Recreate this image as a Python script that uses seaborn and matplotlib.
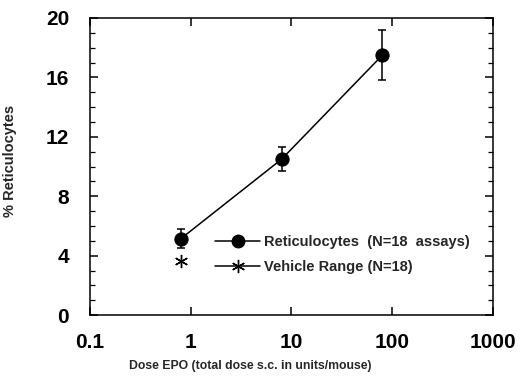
import numpy as np
import pandas as pd
import matplotlib
matplotlib.use("Agg")
import matplotlib.pyplot as plt
from matplotlib.lines import Line2D
from matplotlib.ticker import FixedLocator, MultipleLocator, NullLocator, FixedFormatter
import seaborn as sns

# data
dose = [0.8, 8, 80]
retic = [5.15, 10.5, 17.5]
retic_err = [0.65, 0.8, 1.7]
vehicle_dose = [0.8]
vehicle_val = [3.65]
xticks = [0.1, 1, 10, 100, 1000]
xtick_labels = ["0.1", "1", "10", "100", "1000"]

df = pd.DataFrame({"dose": dose, "retic": retic})

sns.set_style("ticks")
plt.rcParams["font.family"] = ["Liberation Sans", "DejaVu Sans"]

fig = plt.figure(figsize=(5.2, 3.82), dpi=100)
ax = fig.add_axes([0.173, 0.175, 0.775, 0.778])

# line + markers
sns.lineplot(data=df, x="dose", y="retic", ax=ax, color="black", lw=1.1,
             marker="o", markersize=9.5, markeredgecolor="black", legend=False)
ax.errorbar(dose, retic, yerr=retic_err, fmt="none", ecolor="black",
            elinewidth=1.1, capsize=3, capthick=1.1)
# vehicle (asterisk)
ax.plot(vehicle_dose, vehicle_val, ls="-", color="black",
        marker=(6, 2, 0), markersize=9.5, mew=1.0)

ax.set_xscale("log")
ax.set_xlim(0.1, 1000)
ax.set_ylim(0, 20)

ax.xaxis.set_major_locator(FixedLocator(xticks))
ax.xaxis.set_major_formatter(FixedFormatter(xtick_labels))
ax.xaxis.set_minor_locator(NullLocator())
ax.yaxis.set_major_locator(MultipleLocator(4))
ax.yaxis.set_minor_locator(MultipleLocator(1))

ax.tick_params(which="both", direction="in", top=True, right=True, colors="black")
ax.tick_params(which="major", length=6, width=1.1)
ax.tick_params(which="minor", length=3.5, width=0.9)
ax.tick_params(axis="x", which="major", labelsize=15, pad=13)
ax.tick_params(axis="y", which="major", labelsize=15, pad=15)
for t in ax.get_xticklabels() + ax.get_yticklabels():
    t.set_fontweight("bold")

for s in ax.spines.values():
    s.set_visible(True)
    s.set_color("black")
    s.set_linewidth(1.1)

ax.set_xlabel("Dose EPO (total dose s.c. in units/mouse)", fontsize=8.8, fontweight="bold")
ax.xaxis.set_label_coords(0.397, -0.152)
ax.set_ylabel("% Reticulocytes", fontsize=10.5, fontweight="bold")
ax.yaxis.set_label_coords(-0.181, 0.518)

handles = [
    Line2D([0], [0], color="black", lw=1.1, marker="o", markersize=9),
    Line2D([0], [0], color="black", lw=1.1, marker=(6, 2, 0), markersize=9.5, mew=1.0),
]
labels = ["Reticulocytes  (N=18  assays)", "Vehicle Range (N=18)"]
ax.legend(handles, labels, loc="center left", bbox_to_anchor=(0.296, 0.205),
          frameon=False, prop={"size": 10.5, "weight": "bold"},
          handlelength=3.1, handletextpad=0.25, labelspacing=0.75, borderaxespad=0)

fig.savefig("out.png", dpi=100)
